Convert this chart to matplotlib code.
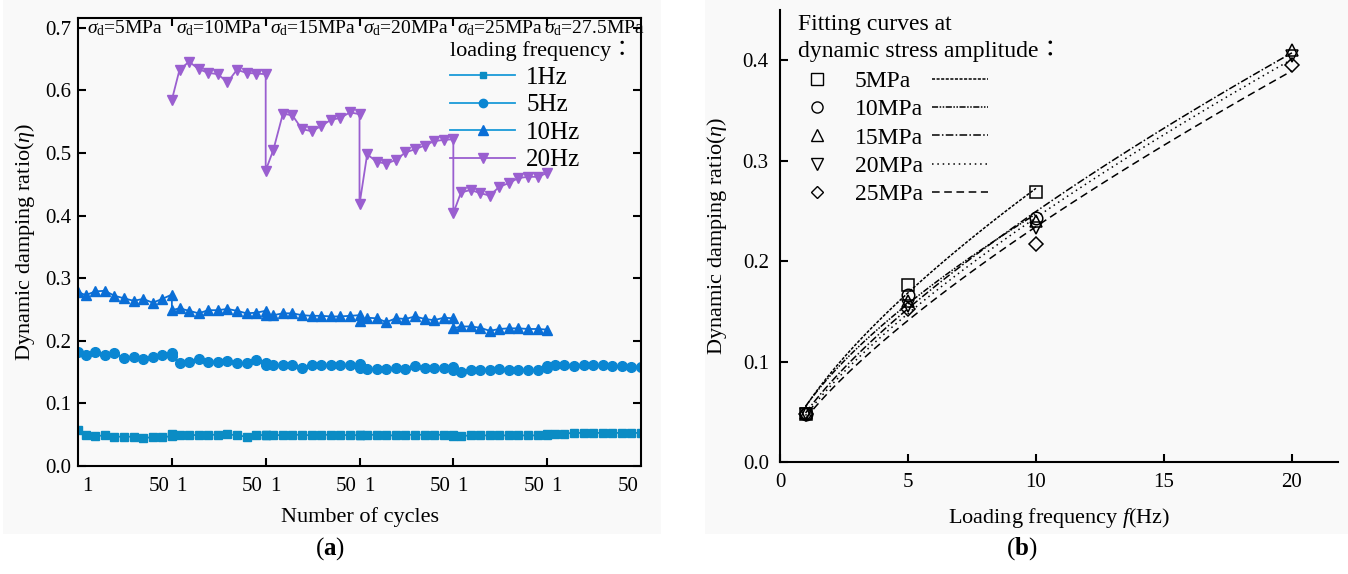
import numpy as np
import matplotlib
matplotlib.use("Agg")
import matplotlib.pyplot as plt
from matplotlib.lines import Line2D
from matplotlib.patches import Rectangle

plt.rcParams['font.family'] = ['Liberation Serif', 'Noto Sans CJK TC', 'DejaVu Sans']
plt.rcParams['mathtext.fontset'] = 'custom'
plt.rcParams['mathtext.rm'] = 'Liberation Serif'
plt.rcParams['mathtext.it'] = 'Liberation Serif:italic'
plt.rcParams['mathtext.bf'] = 'Liberation Serif:bold'
plt.rcParams['font.size'] = 15

# ---- panel (a) data: 11 readings per stress stage (cycles 1,5,...,50)
cycles = [1, 5, 10, 15, 20, 25, 30, 35, 40, 45, 50]
stages = ["5MPa", "10MPa", "15MPa", "20MPa", "25MPa", "27.5MPa"]

eta_1hz = [0.057, 0.049, 0.048, 0.049, 0.047, 0.047, 0.047, 0.045, 0.046, 0.046, 0.048,
           0.051, 0.050, 0.049, 0.050, 0.050, 0.050, 0.051, 0.049, 0.047, 0.049, 0.050,
           0.050, 0.050, 0.049, 0.050, 0.050, 0.049, 0.050, 0.050, 0.049, 0.050, 0.049,
           0.050, 0.050, 0.050, 0.049, 0.049, 0.050, 0.050, 0.050, 0.050, 0.050, 0.049,
           0.048, 0.048, 0.049, 0.049, 0.049, 0.049, 0.049, 0.049, 0.049, 0.049, 0.050,
           0.052, 0.052, 0.052, 0.053, 0.053, 0.053, 0.053, 0.053, 0.053, 0.053, 0.053]
eta_5hz = [0.183, 0.177, 0.182, 0.178, 0.181, 0.172, 0.175, 0.171, 0.174, 0.178, 0.181,
           0.176, 0.164, 0.167, 0.171, 0.167, 0.167, 0.168, 0.165, 0.164, 0.169, 0.165,
           0.162, 0.161, 0.161, 0.161, 0.156, 0.161, 0.161, 0.162, 0.161, 0.161, 0.163,
           0.156, 0.155, 0.155, 0.155, 0.157, 0.155, 0.160, 0.157, 0.156, 0.157, 0.158,
           0.154, 0.151, 0.154, 0.154, 0.154, 0.155, 0.154, 0.154, 0.154, 0.153, 0.156,
           0.160, 0.161, 0.162, 0.160, 0.161, 0.161, 0.161, 0.160, 0.160, 0.159, 0.159]
eta_10hz = [0.278, 0.273, 0.279, 0.280, 0.272, 0.268, 0.264, 0.267, 0.261, 0.267, 0.274,
            0.249, 0.252, 0.248, 0.244, 0.249, 0.249, 0.251, 0.248, 0.244, 0.245, 0.248,
            0.241, 0.241, 0.244, 0.244, 0.241, 0.240, 0.240, 0.239, 0.239, 0.240, 0.241,
            0.232, 0.237, 0.236, 0.230, 0.236, 0.235, 0.239, 0.235, 0.233, 0.237, 0.236,
            0.220, 0.223, 0.223, 0.221, 0.216, 0.219, 0.220, 0.220, 0.219, 0.219, 0.218]
eta_20hz = [0.585, 0.633, 0.646, 0.634, 0.628, 0.626, 0.613, 0.633, 0.628, 0.627, 0.626,
            0.472, 0.505, 0.563, 0.560, 0.538, 0.535, 0.543, 0.553, 0.556, 0.565, 0.562,
            0.418, 0.498, 0.486, 0.483, 0.489, 0.501, 0.506, 0.512, 0.519, 0.521, 0.522,
            0.404, 0.437, 0.441, 0.436, 0.432, 0.446, 0.452, 0.460, 0.462, 0.462, 0.468]

# ---- panel (b) data: mean damping ratio vs loading frequency
amp_labels = ["5MPa", "10MPa", "15MPa", "20MPa", "25MPa"]
freq_sets = [[1, 5, 10], [1, 5, 10], [1, 5, 10, 20], [1, 5, 10, 20], [1, 5, 10, 20]]
eta_sets = [[0.048, 0.176, 0.269],
            [0.048, 0.166, 0.243],
            [0.049, 0.160, 0.240, 0.410],
            [0.048, 0.155, 0.233, 0.404],
            [0.048, 0.152, 0.217, 0.395]]
amp_markers = ["s", "o", "^", "v", "D"]
amp_styles = [(0, (2, 1)), (0, (4, 1, 1, 1, 1, 1)), (0, (5, 1.5, 1, 1.5)),
              (0, (1, 2.5)), (0, (5, 3))]


def power_fit(f, e):
    # least squares fit of e = a * f**b (in linear space)
    best = None
    for b in np.linspace(0.3, 1.2, 901):
        fb = f ** b
        a = np.sum(e * fb) / np.sum(fb * fb)
        err = np.sum((a * fb - e) ** 2)
        if best is None or err < best[0]:
            best = (err, a, b)
    return best[1], best[2]


fig = plt.figure(figsize=(13.48, 5.74), dpi=100)
fig.patches.append(Rectangle((0.002, 0.07), 0.488, 0.93, transform=fig.transFigure,
                             facecolor='#f9f9f9', edgecolor='none', zorder=-5))
fig.patches.append(Rectangle((0.523, 0.07), 0.477, 0.93, transform=fig.transFigure,
                             facecolor='#f9f9f9', edgecolor='none', zorder=-5))

# ================= panel (a)
ax = fig.add_axes([0.0579, 0.188, 0.4176, 0.781])
ax.set_facecolor('none')


def stage_x(n_stages, offset=0):
    xs = []
    for k in range(n_stages):
        for c in cycles:
            xs.append(offset + k + (c - 1) / 49)
    return xs


series = [
    ("1Hz", eta_1hz, 0, 's', '#0b8cc4', 5.5),
    ("5Hz", eta_5hz, 0, 'o', '#0a86d2', 7),
    ("10Hz", eta_10hz, 0, '^', '#0a6ed6', 7.5),
    ("20Hz", eta_20hz, 1, 'v', '#9a5fd0', 7.5),
]
handles = []
for name, vals, off, mk, col, ms in series:
    xs = stage_x(len(vals) // len(cycles), off)
    ax.plot(xs, vals, color=col, marker=mk, markersize=ms, lw=1.3)
    handles.append(Line2D([], [], color='#1a9ad8' if name != "20Hz" else col,
                          marker=mk, markerfacecolor=col, markeredgecolor=col,
                          markersize=ms - 1, lw=1.3))

ax.set_xlim(0, 6)
ax.set_ylim(0, 0.716)
ax.set_yticks(np.arange(0, 0.71, 0.1))
ax.set_yticklabels([f"{v:.1f}" for v in np.arange(0, 0.71, 0.1)])
ax.set_xticks(range(1, 6))
ax.set_xticklabels([])
lab_pos = []
lab_txt = []
for k in range(6):
    lab_pos += [k + 0.1, k + 0.86]
    lab_txt += ["1", "50"]
ax.set_xticks(lab_pos, minor=True)
ax.set_xticklabels(lab_txt, minor=True)
ax.tick_params(axis='x', which='minor', length=0, pad=8)
ax.tick_params(which='major', direction='in', length=6, width=1.5,
               top=True, right=True, pad=5)
for s in ax.spines.values():
    s.set_linewidth(1.5)
for k, st in enumerate(stages):
    ax.text(k + 0.5, 0.978, r"$\sigma_{\rm d}$=" + st, transform=ax.get_xaxis_transform(),
            ha='center', va='center', fontsize=14)
ax.set_xlabel("Number of cycles", fontsize=16, labelpad=8)
ax.set_ylabel(r"Dynamic damping ratio($\eta$)", fontsize=16, labelpad=6)
leg = ax.legend(handles, ["1Hz", "5Hz", "10Hz", "20Hz"], title="loading frequency：",
                loc='upper right', bbox_to_anchor=(1.0, 0.965), frameon=False,
                fontsize=18, title_fontsize=16, handlelength=2.6, labelspacing=0.2,
                handletextpad=0.45, borderaxespad=0.1, borderpad=0.2)
leg._legend_box.align = 'left'

# ================= panel (b)
bx = fig.add_axes([0.5786, 0.195, 0.414, 0.788])
bx.set_facecolor('none')
mk_handles = []
ln_handles = []
for lab, fs, es, mk, ls in zip(amp_labels, freq_sets, eta_sets, amp_markers, amp_styles):
    fs = np.array(fs, dtype=float)
    es = np.array(es)
    a, b = power_fit(fs, es)
    ff = np.linspace(1, fs.max(), 100)
    bx.plot(ff, a * ff ** b, color='black', lw=1.1, linestyle=ls)
    ms = 7 if mk == 'D' else 9
    bx.plot(fs, es, linestyle='none', marker=mk, markersize=ms, markerfacecolor='none',
            markeredgecolor='black', markeredgewidth=1.1)
    mk_handles.append(Line2D([], [], linestyle='none', marker=mk, markersize=ms - 1,
                             markerfacecolor='none', markeredgecolor='black'))
    ln_handles.append(Line2D([], [], color='black', lw=1.1, linestyle=ls))

bx.set_xlim(0, 21.8)
bx.set_ylim(0, 0.45)
bx.set_xticks([0, 5, 10, 15, 20])
bx.set_yticks([0.0, 0.1, 0.2, 0.3, 0.4])
bx.set_yticklabels(["0.0", "0.1", "0.2", "0.3", "0.4"])
bx.spines['top'].set_visible(False)
bx.spines['right'].set_visible(False)
for s in ['left', 'bottom']:
    bx.spines[s].set_linewidth(1.5)
bx.tick_params(direction='in', length=6, width=1.5, pad=8)
bx.set_xlabel(r"Loading frequency $f$(Hz)", fontsize=16, labelpad=10)
bx.set_ylabel(r"Dynamic damping ratio($\eta$)", fontsize=16, labelpad=10)
bx.text(0.032, 0.99, "Fitting curves at\ndynamic stress amplitude：", transform=bx.transAxes,
        ha='left', va='top', fontsize=17, linespacing=1.3)
leg1 = bx.legend(mk_handles, amp_labels, loc='upper left', bbox_to_anchor=(0.045, 0.866),
                 frameon=False, fontsize=17, handlelength=1.0, handletextpad=1.1,
                 labelspacing=0.29, borderaxespad=0, borderpad=0)
bx.add_artist(leg1)
bx.legend(ln_handles, [""] * 5, loc='upper left', bbox_to_anchor=(0.272, 0.866),
          frameon=False, fontsize=17, handlelength=2.4, handletextpad=0,
          labelspacing=0.29, borderaxespad=0, borderpad=0)

fig.text(0.245, 0.045, r"($\mathbf{a}$)", ha='center', va='center', fontsize=18)
fig.text(0.758, 0.045, r"($\mathbf{b}$)", ha='center', va='center', fontsize=18)

fig.savefig("out.png", dpi=100, facecolor='white')
